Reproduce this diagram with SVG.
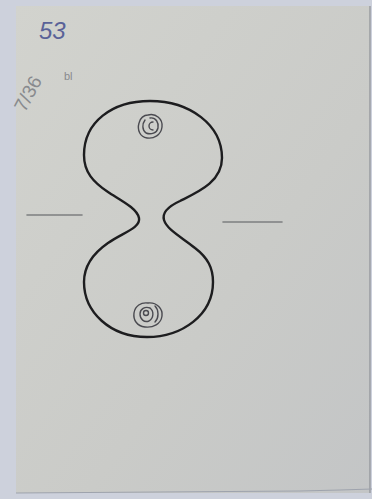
<svg xmlns="http://www.w3.org/2000/svg" width="372" height="499" viewBox="0 0 372 499">
  <defs>
    <linearGradient id="paper" x1="0" y1="0" x2="1" y2="1">
      <stop offset="0" stop-color="#d2d3ce"/>
      <stop offset="0.6" stop-color="#cacbc8"/>
      <stop offset="1" stop-color="#c3c5c6"/>
    </linearGradient>
  </defs>
  <style>
    .outline { fill: none; stroke: #1d1d1f; stroke-width: 2.4; stroke-linecap: round; stroke-linejoin: round; }
    .spiral { fill: none; stroke: #4a4a50; stroke-width: 1.4; stroke-linecap: round; }
    .rule { stroke: #7d7f80; stroke-width: 1.6; stroke-linecap: round; }
    .pencil { font-family: "Liberation Sans", sans-serif; fill: #888a8e; }
  </style>
  <rect x="0" y="0" width="372" height="499" fill="#cdd1dc"/>
  <rect x="16" y="6" width="354" height="487" fill="url(#paper)"/>
  <line x1="370" y1="6" x2="370" y2="493" stroke="#8d9096" stroke-width="1.2"/>
  <path d="M16,493 L300,491 L340,490 L372,489" fill="none" stroke="#9ea3ad" stroke-width="1.2"/>

  <text x="39" y="39" font-family="Liberation Sans, sans-serif" font-size="24" font-style="italic" fill="#5a6298">53</text>
  <text class="pencil" x="0" y="0" font-size="19" transform="translate(25,113) rotate(-62)">7/36</text>
  <text class="pencil" x="64" y="80" font-size="11">bl</text>

  <g id="rules">
    <line class="rule" x1="27" y1="215" x2="82" y2="215"/>
    <line class="rule" x1="223" y1="222" x2="282" y2="222"/>
  </g>

  <g id="outline">
    <path class="outline" d="M150,101 C190,101 222,125 222,158 C222,182 198,192 180,201 C167,207 162,213 164,220 C167,230 183,238 195,248 C208,258 213,268 213,282 C213,315 182,337 147,337 C110,337 84,312 84,282 C84,265 95,252 108,243 C122,233 141,228 139,218 C137,208 120,200 108,192 C93,182 84,172 84,155 C84,122 112,101 150,101 Z"/>
  </g>

  <g id="spiral-top">
    <path class="spiral" d="M153,122 A3.5,3.5 0 1 0 153,130"/>
    <path class="spiral" d="M150,118 C156,117 159,123 158,128 C157,133 151,135 146,133 C142,130 142,124 145,120"/>
    <path class="spiral" d="M148,115 C156,113 163,119 162,127 C161,135 154,139 147,138 C140,137 137,130 139,123 C140,118 144,115 148,115"/>
  </g>

  <g id="spiral-bottom">
    <circle class="spiral" cx="146" cy="313" r="2.5"/>
    <path class="spiral" d="M150,308 C154,311 154,318 149,321 C144,323 140,319 140,314 C140,309 145,306 150,308"/>
    <path class="spiral" d="M148,303 C157,302 163,309 162,316 C161,324 153,328 145,327 C137,326 133,320 134,313 C135,306 141,302 148,303"/>
    <path class="spiral" d="M155,306 C159,310 159,318 155,322"/>
  </g>
</svg>
